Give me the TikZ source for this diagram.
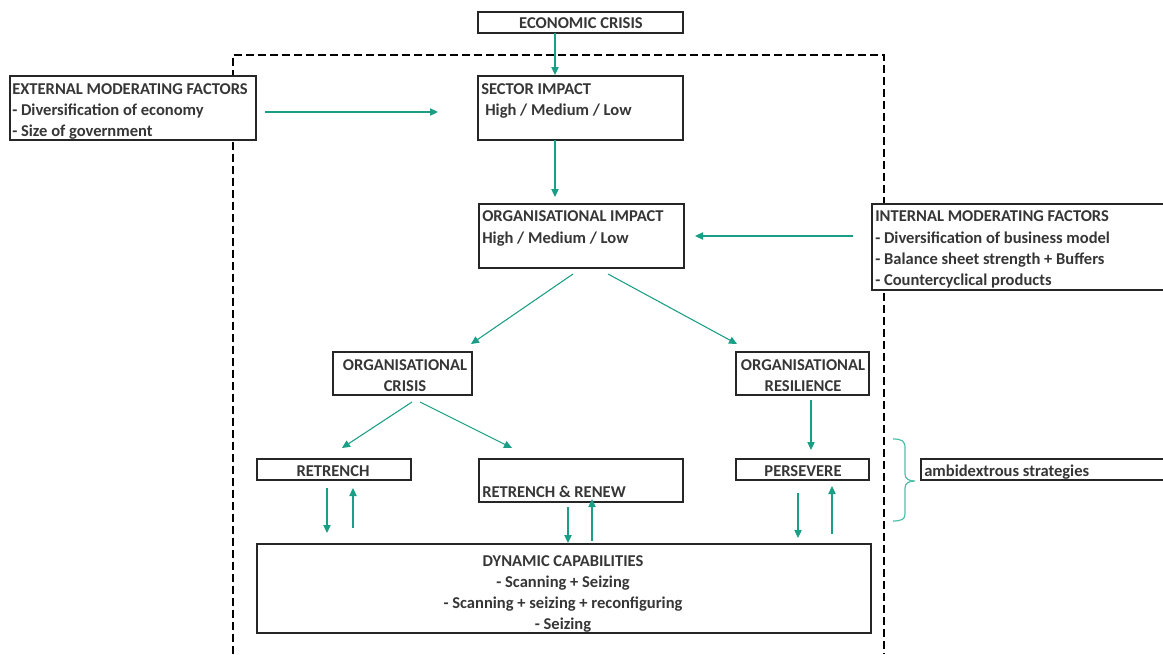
\documentclass[tikz,border=0pt]{standalone}
\usepackage{fontspec}
\setmainfont{Carlito}
\usetikzlibrary{arrows.meta,fit}
\definecolor{arrc}{HTML}{1A9E85}
\definecolor{brc}{HTML}{4DC0A8}
\definecolor{txt}{HTML}{363636}
\tikzset{
 box/.style={draw=black!85, line width=0.9pt, inner sep=0pt},
 lbl/.style={font=\bfseries\fontsize{12.4}{14}\selectfont, text=txt, inner sep=0pt},
 lw/.style={lbl, anchor=base west},
 lc/.style={lbl, anchor=base},
 arr/.style={draw=arrc, line width=0.8pt, -{Triangle[length=6pt,width=5.5pt]}},
 dashbox/.style={draw=black, line width=1.9pt, dash pattern=on 6pt off 3pt},
}
\begin{document}
\begin{tikzpicture}[x=0.75pt,y=-0.75pt]
\useasboundingbox (0,0) rectangle (1163,654);
% dashed frame
\coordinate (f1) at (233,654);
\coordinate (f2) at (233,55);
\coordinate (f3) at (884,55);
\coordinate (f4) at (884,654);
\draw[dashbox] (f1) -- (f2) -- (f3) -- (f4);

% box corners
\coordinate (ec1) at (478,12);  \coordinate (ec2) at (683,33);
\coordinate (ex1) at (10,76);   \coordinate (ex2) at (256,140);
\coordinate (si1) at (478,76);  \coordinate (si2) at (683,140);
\coordinate (oi1) at (479,204); \coordinate (oi2) at (684,268);
\coordinate (in1) at (872,204); \coordinate (in2) at (1166,290);
\coordinate (oc1) at (333,352); \coordinate (oc2) at (472,395);
\coordinate (or1) at (736,352); \coordinate (or2) at (869,395);
\coordinate (rt1) at (257,459); \coordinate (rt2) at (411,480);
\coordinate (rr1) at (479,459); \coordinate (rr2) at (683,502);
\coordinate (pv1) at (736,459); \coordinate (pv2) at (869,480);
\coordinate (dc1) at (257,544); \coordinate (dc2) at (871,633);
\coordinate (am1) at (921,459); \coordinate (am2) at (1166,480);

\node[box, fill=white, fit=(ec1)(ec2)] (ec) {};
\node[box, fill=white, fit=(ex1)(ex2)] (ex) {};
\node[box, fill=white, fit=(si1)(si2)] (si) {};
\node[box, fill=white, fit=(oi1)(oi2)] (oi) {};
\node[box, fill=white, fit=(in1)(in2)] (in) {};
\node[box, fit=(oc1)(oc2)] (oc) {};
\node[box, fit=(or1)(or2)] (or) {};
\node[box, fit=(rt1)(rt2)] (rt) {};
\node[box, fit=(rr1)(rr2)] (rr) {};
\node[box, fit=(pv1)(pv2)] (pv) {};
\node[box, fit=(dc1)(dc2)] (dc) {};
\node[box, fill=white, fit=(am1)(am2)] (am) {};

% texts
\node[lc] (t1) at (581,28) {ECONOMIC CRISIS};
\node[lw] (t2) at (12,94) {EXTERNAL MODERATING FACTORS};
\node[lw] (t3) at (12,115) {- Diversification of economy};
\node[lw] (t4) at (12,136) {- Size of government};
\node[lw] (t5) at (481,94) {SECTOR IMPACT};
\node[lw] (t6) at (485,115) {High / Medium / Low};
\node[lw] (t7) at (482,221) {ORGANISATIONAL IMPACT};
\node[lw] (t8) at (482,243) {High / Medium / Low};
\node[lw] (t9) at (875,221) {INTERNAL MODERATING FACTORS};
\node[lw] (t10) at (875,243) {- Diversification of business model};
\node[lw] (t11) at (875,264) {- Balance sheet strength + Buffers};
\node[lw] (t12) at (875,285) {- Countercyclical products};
\node[lc] (t13) at (405,370) {ORGANISATIONAL};
\node[lc] (t14) at (405,391) {CRISIS};
\node[lc] (t15) at (803,370) {ORGANISATIONAL};
\node[lc] (t16) at (803,391) {RESILIENCE};
\node[lc] (t17) at (333,476) {RETRENCH};
\node[lw] (t18) at (482,497) {RETRENCH \& RENEW};
\node[lc] (t19) at (803,476) {PERSEVERE};
\node[lc] (t20) at (563,566) {DYNAMIC CAPABILITIES};
\node[lc] (t21) at (563,587) {- Scanning + Seizing};
\node[lc] (t22) at (563,608) {- Scanning + seizing + reconfiguring};
\node[lc] (t23) at (563,629) {- Seizing};
\node[lw] (t24) at (924,476) {ambidextrous strategies};

% arrows
\coordinate (a1s) at (555,33);  \coordinate (a1e) at (555,75);
\coordinate (a2s) at (265,112); \coordinate (a2e) at (438,112);
\coordinate (a3s) at (555,140); \coordinate (a3e) at (555,197);
\coordinate (a4s) at (853,236); \coordinate (a4e) at (695,236);
\coordinate (a5s) at (573,274); \coordinate (a5e) at (471,344);
\coordinate (a6s) at (608,274); \coordinate (a6e) at (737,344);
\coordinate (a7s) at (412,402); \coordinate (a7e) at (342,448);
\coordinate (a8s) at (420,402); \coordinate (a8e) at (512,448);
\coordinate (a9s) at (811,400); \coordinate (a9e) at (811,450);
\coordinate (b1s) at (327,488); \coordinate (b1e) at (327,533);
\coordinate (b2s) at (353,528); \coordinate (b2e) at (353,488);
\coordinate (b3s) at (568,507); \coordinate (b3e) at (568,543);
\coordinate (b4s) at (592,541); \coordinate (b4e) at (592,499);
\coordinate (b5s) at (798,493); \coordinate (b5e) at (798,538);
\coordinate (b6s) at (832,534); \coordinate (b6e) at (832,486);
\foreach \s/\e in {a1s/a1e,a2s/a2e,a3s/a3e,a4s/a4e,a5s/a5e,a6s/a6e,a7s/a7e,a8s/a8e,a9s/a9e,b1s/b1e,b2s/b2e,b3s/b3e,b4s/b4e,b5s/b5e,b6s/b6e}
  \draw[arr] (\s) -- (\e);

% brace
\coordinate (br1) at (893,439);
\coordinate (br2) at (915,481);
\coordinate (br3) at (893,521);
\draw[brc, line width=0.9pt] (br1) .. controls (902,439) and (905,441) .. (905,448)
  -- (905,474) .. controls (905,479) and (909,481) .. (br2)
  .. controls (909,481) and (905,483) .. (905,488)
  -- (905,514) .. controls (905,519) and (902,521) .. (br3);
\end{tikzpicture}
\end{document}
